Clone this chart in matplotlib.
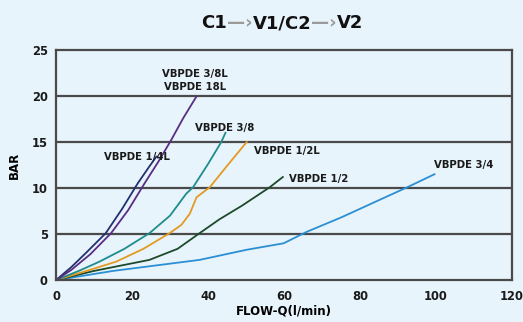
import matplotlib
matplotlib.use("Agg")
import matplotlib.pyplot as plt
from matplotlib.ticker import MultipleLocator
from matplotlib.transforms import offset_copy

plt.rcParams["font.family"] = ["DejaVu Sans"]
plt.rcParams["font.weight"] = "bold"

BG = "#e8f4fb"
GRID = "#4a4a4a"

# curves: flow (l/min) vs pressure drop (bar)
q_14l = [0, 4, 8, 13.1, 17.5, 21.5, 24.5, 26.4]
p_14l = [0, 1.4, 3.0, 5.1, 7.8, 10.5, 12.3, 13.4]

q_38l = [0, 4, 9, 14.5, 19, 23.3, 27, 30.3, 33.5, 36.9]
p_38l = [0, 1.1, 2.8, 5.1, 7.6, 10.5, 12.9, 15.2, 17.6, 19.9]

q_38 = [0, 6, 11.4, 18, 24.6, 30, 34.3, 36.1, 40, 43.5, 44.6]
p_38 = [0, 1.0, 2.0, 3.4, 5.1, 7.0, 9.4, 10.1, 12.6, 15.0, 16.0]

q_12l = [0, 8, 15.8, 23, 29.9, 33, 35.2, 37, 40.5, 45, 50.2]
p_12l = [0, 1.0, 2.0, 3.4, 5.1, 6.0, 7.2, 9.0, 10.1, 12.4, 15.0]

q_12 = [0, 10, 24.6, 32, 37.8, 43, 49, 56.3, 59.7]
p_12 = [0, 1.0, 2.2, 3.4, 5.1, 6.6, 8.1, 10.1, 11.2]

q_34 = [0, 15, 37.8, 50.2, 59.9, 66, 75, 84, 92.5, 99.6]
p_34 = [0, 1.0, 2.2, 3.3, 4.0, 5.25, 6.8, 8.5, 10.1, 11.5]

series = [
    (q_34, p_34, "#2a8fd4"),
    (q_12, p_12, "#1c4a2a"),
    (q_12l, p_12l, "#e39a22"),
    (q_38, p_38, "#1f8c8c"),
    (q_14l, p_14l, "#23306f"),
    (q_38l, p_38l, "#5a2c84"),
]

labels = [
    ("VBPDE 3/8L", 28.0, 22.4),
    ("VBPDE 18L", 28.5, 21.0),
    ("VBPDE 3/8", 36.5, 16.5),
    ("VBPDE 1/4L", 12.7, 13.4),
    ("VBPDE 1/2L", 52.0, 14.0),
    ("VBPDE 1/2", 61.2, 11.0),
    ("VBPDE 3/4", 99.6, 12.5),
]

fig = plt.figure(figsize=(5.23, 3.22), dpi=100, facecolor=BG)
ax = fig.add_axes([0.107, 0.130, 0.872, 0.715])
ax.set_facecolor(BG)

for y in [5, 10, 15, 20]:
    ax.axhline(y, color=GRID, lw=1.6, zorder=1)

for q, p, c in series:
    ax.plot(q, p, color=c, lw=1.3, zorder=2)

for txt, x, y in labels:
    ax.text(x, y, txt, fontsize=7.3, fontweight="bold", color="#1a1a1a",
            ha="left", va="center")

ax.set_xlim(0, 120)
ax.set_ylim(0, 25)
ax.xaxis.set_major_locator(MultipleLocator(20))
ax.yaxis.set_major_locator(MultipleLocator(5))
ax.tick_params(length=0, labelsize=8.3, colors="#1a1a1a")
ax.tick_params(axis="x", pad=7)
ax.tick_params(axis="y", pad=6)
for lab in ax.get_xticklabels() + ax.get_yticklabels():
    lab.set_fontweight("bold")
for s in ax.spines.values():
    s.set_color(GRID)
    s.set_linewidth(1.6)

ax.set_xlabel("FLOW-Q(l/min)", fontsize=8.5, fontweight="bold", labelpad=1)
ax.set_ylabel("BAR", fontsize=8.5, fontweight="bold", labelpad=8)

# title with grey arrows, drawn piece by piece
parts = [("C1", "#111111"), ("\u2014\u203a", "#9a9a9a"), ("V1/C2", "#111111"),
         ("\u2014\u203a", "#9a9a9a"), ("V2", "#111111")]
fig.canvas.draw()
renderer = fig.canvas.get_renderer()
x0 = 0.385
trans = fig.transFigure
for s, c in parts:
    t = fig.text(x0, 0.928, s, color=c, fontsize=13, fontweight="bold",
                 ha="left", va="center", transform=trans)
    w = t.get_window_extent(renderer).width
    trans = offset_copy(trans, fig=fig, x=w, units="dots")

fig.savefig("out.png", dpi=100, facecolor=BG)
